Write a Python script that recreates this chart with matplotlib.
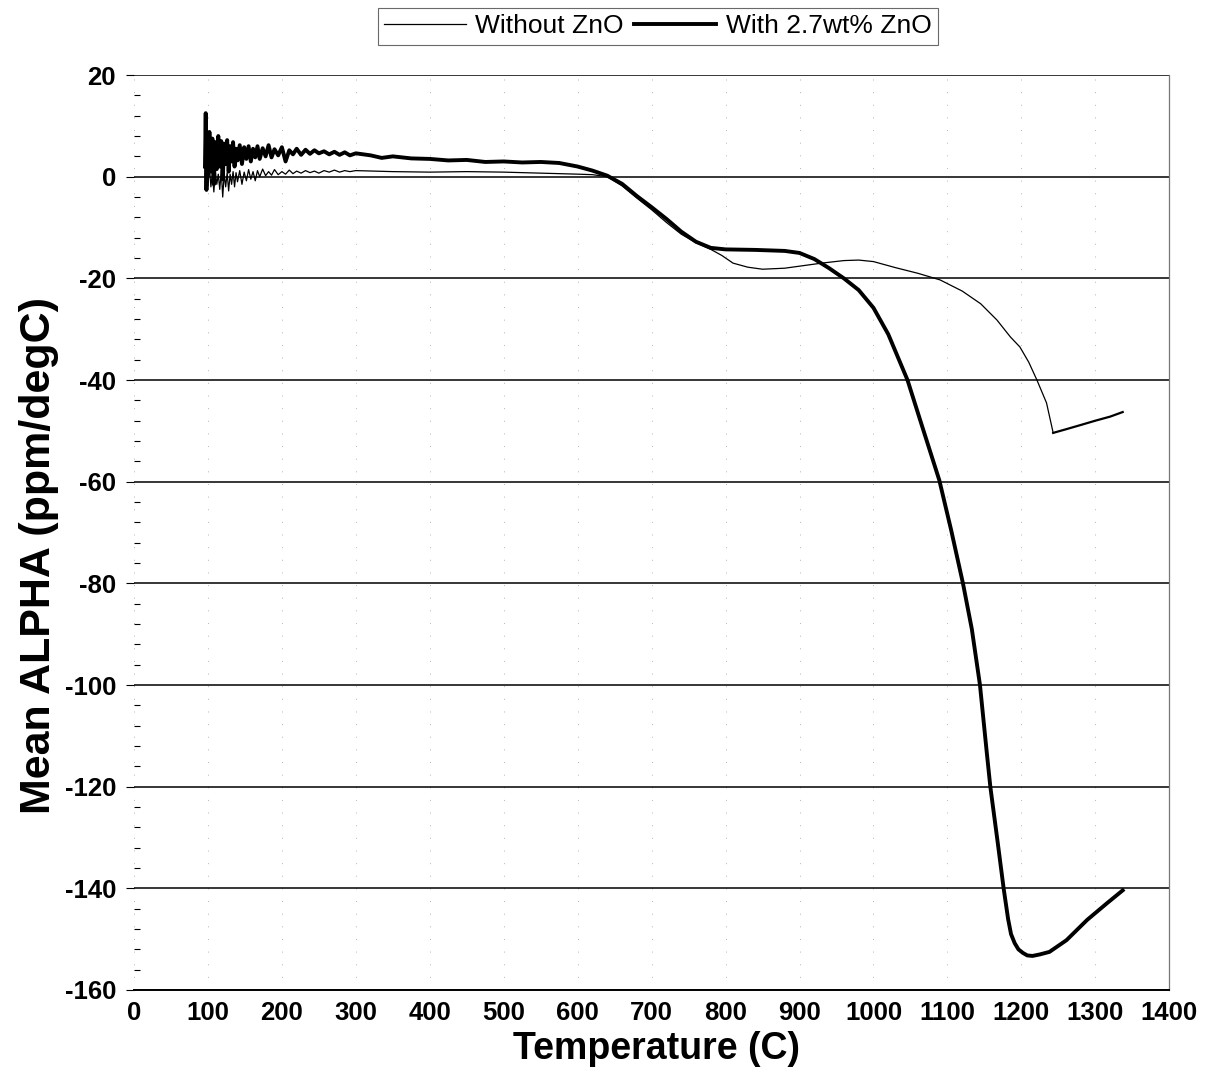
import matplotlib
matplotlib.use("Agg")
import matplotlib.pyplot as plt
from matplotlib.ticker import MultipleLocator

plt.rcParams['font.family'] = ['Liberation Sans', 'DejaVu Sans']
plt.rcParams['axes.unicode_minus'] = False

# temperatures of the noisy start of both runs (C)
start_temp = [96, 97, 98, 99, 100,
              102, 104, 106, 108, 110, 112, 114, 116, 118, 120, 122, 124, 126, 128, 130,
              132, 134, 136, 138, 140,
              143, 146, 149, 152, 155, 158, 161, 164, 167, 170,
              174, 178, 182, 186, 190,
              195, 200, 205, 210, 215, 220,
              226, 232, 238, 244, 250,
              257, 264, 271, 278, 285, 292, 300]

# Without ZnO
without_start = [0.0, 2.5, -2.5, 1.5, -1.8,
                 2.0, -2.0, 0.8, -3.0, 1.0, -1.5, 0.5, -2.5, 1.2, -4.0, 0.6, -2.0, 0.8, -2.8, 0.5,
                 -1.5, 1.0, -2.0, 0.8, -1.0,
                 1.2, -1.5, 0.9, -0.8, 1.4, -0.5, 1.0, -0.8, 1.2, 0.0,
                 1.5, 0.2, 1.0, 0.3, 1.4,
                 0.4, 1.0, 0.5, 1.3, 0.6, 1.1,
                 0.7, 1.2, 0.8, 1.1, 0.7,
                 1.2, 0.9, 1.3, 0.9, 1.2, 1.0, 1.2]
without_temp = [350, 400, 450, 500, 550, 600, 620, 640, 660, 680, 700, 720, 740, 760, 780,
                795, 810, 830, 850, 880, 900, 930, 960, 980, 1000, 1030, 1060, 1090, 1120,
                1145, 1167, 1185, 1198, 1210, 1221, 1234, 1243]
without_alpha = [1.0, 0.9, 1.0, 0.9, 0.7, 0.5, 0.4, 0.0, -1.8, -4.2, -6.5, -9.0, -11.3, -13.0, -14.3,
                 -15.5, -17.0, -17.8, -18.2, -18.0, -17.6, -17.0, -16.5, -16.4, -16.7, -17.9, -19.0, -20.3, -22.5,
                 -25.0, -28.2, -31.5, -33.5, -36.5, -40.0, -44.5, -50.4]
# cooling tail of the same run
tail_temp = [1243, 1260, 1279, 1300, 1320, 1337]
tail_alpha = [-50.4, -49.7, -48.9, -48.0, -47.2, -46.3]

# With 2.7wt% ZnO
with_start = [2.0, 12.5, -2.6, 6.0, 0.5,
              8.8, 1.0, 7.5, -1.5, 6.8, 1.5, 8.0, 2.0, 7.0, -0.5, 6.5, 2.5, 7.2, 1.0, 6.0,
              3.0, 6.8, 2.0, 5.5, 3.2,
              6.2, 2.5, 5.8, 3.5, 6.0, 3.0, 5.5, 3.8, 6.0, 3.5,
              5.6, 4.0, 6.2, 3.8, 5.4,
              4.2, 5.8, 3.0, 5.2, 4.4, 5.5,
              4.3, 5.3, 4.5, 5.2, 4.6,
              5.0, 4.4, 4.9, 4.3, 4.8, 4.2, 4.6]
with_temp = [320, 335, 350, 375, 400, 425, 450, 475, 500, 525, 550, 575, 600, 620, 640, 660, 680,
             700, 720, 740, 760, 780, 800, 840, 880, 900, 920, 940, 960, 980, 1000, 1020, 1046,
             1066, 1089, 1105, 1121, 1133, 1144, 1153, 1158, 1168, 1176, 1182, 1186, 1191, 1196,
             1202, 1208, 1215, 1225, 1238, 1261, 1289, 1316, 1337]
with_alpha = [4.2, 3.7, 4.0, 3.6, 3.5, 3.2, 3.3, 2.9, 3.0, 2.8, 2.9, 2.7, 2.0, 1.2, 0.2, -1.4, -3.8,
              -6.0, -8.3, -10.8, -12.8, -14.0, -14.3, -14.4, -14.6, -15.0, -16.2, -18.0, -20.0, -22.3, -25.8, -31.0, -40.0,
              -49.2, -59.7, -69.5, -80.0, -89.0, -100.0, -113.0, -120.0, -131.0, -140.0, -146.0, -149.0, -150.8, -152.0,
              -152.7, -153.2, -153.3, -153.0, -152.5, -150.2, -146.2, -142.9, -140.4]

fig = plt.figure(figsize=(12.18, 10.86), dpi=100)
ax = fig.add_axes([0.110, 0.0884, 0.850, 0.8425])

ax.plot(start_temp + without_temp, without_start + without_alpha, color='black', lw=0.9,
        label='Without ZnO')
ax.plot(tail_temp, tail_alpha, color='black', lw=1.6)
ax.plot(start_temp + with_temp, with_start + with_alpha, color='black', lw=2.8,
        label='With 2.7wt% ZnO')

ax.set_xlim(0, 1400)
ax.set_ylim(-160, 20)
ax.xaxis.set_major_locator(MultipleLocator(100))
ax.yaxis.set_major_locator(MultipleLocator(20))
ax.yaxis.set_minor_locator(MultipleLocator(4))

# horizontal solid grid, faint dotted verticals
ax.grid(axis='y', which='major', color='black', lw=1.1)
ax.grid(axis='x', which='major', color='#b5b5b5', lw=0.7, linestyle=(0, (1, 12)))
ax.set_axisbelow(True)

for s in ['left', 'top']:
    ax.spines[s].set_visible(False)
ax.spines['bottom'].set_color('black')
ax.spines['bottom'].set_linewidth(1.4)
ax.spines['right'].set_color('#777777')
ax.spines['right'].set_linewidth(0.9)

ax.tick_params(axis='y', which='major', direction='out', length=6, width=0.8, pad=7)
ax.tick_params(axis='y', which='minor', direction='in', length=4, width=0.8)
ax.tick_params(axis='x', which='major', length=0, pad=8)
for lab in ax.get_xticklabels() + ax.get_yticklabels():
    lab.set_fontsize(18.5)
    lab.set_fontweight('bold')

ax.set_xlabel('Temperature (C)', fontsize=27, fontweight='bold')
ax.xaxis.set_label_coords(0.505, -0.045)
ax.set_ylabel('Mean ALPHA (ppm/degC)', fontsize=31, fontweight='bold')
ax.yaxis.set_label_coords(-0.072, 0.475)

leg = ax.legend(loc='lower center', bbox_to_anchor=(0.506, 1.033), ncol=2, fontsize=19,
                frameon=True, fancybox=False, edgecolor='#444444', handlelength=3.1,
                handletextpad=0.35, columnspacing=0.4, borderpad=0.25, borderaxespad=0)
leg.get_frame().set_linewidth(0.8)

plt.savefig('out.png', dpi=100)
